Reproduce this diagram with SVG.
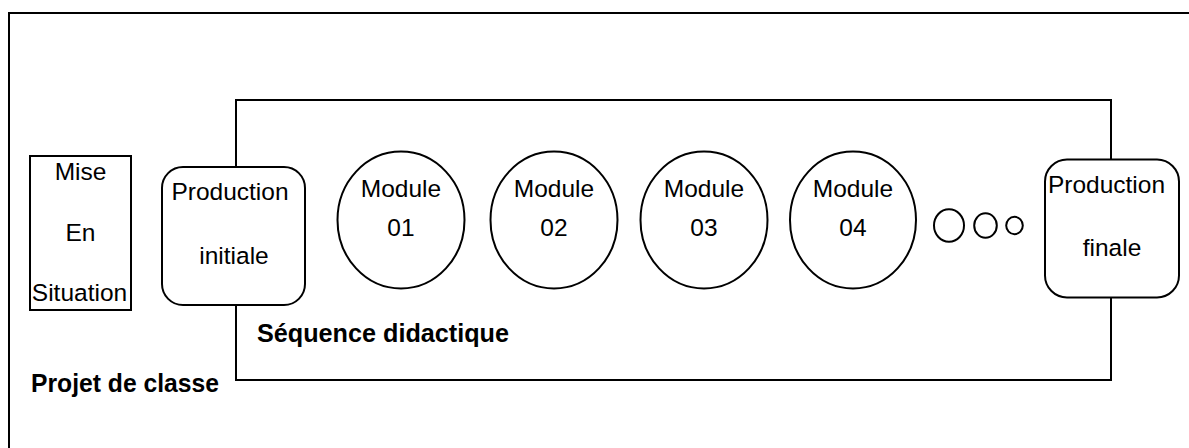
<svg xmlns="http://www.w3.org/2000/svg" width="1189" height="448" viewBox="0 0 1189 448">
<style>
.s{fill:#fff;stroke:#000;stroke-width:2}
.f{fill:none;stroke:#000;stroke-width:2}
.t{font-family:"Liberation Sans",Arial,sans-serif;font-size:24.5px;fill:#000;text-anchor:middle}
.b{font-family:"Liberation Sans",Arial,sans-serif;font-size:25px;font-weight:bold;fill:#000}
</style>
<rect fill="#fff" width="1189" height="448"/>
<g id="projet-classe">
<rect class="f" x="9" y="13" width="1200" height="500"/>
<text class="b" x="31" y="392" textLength="188" lengthAdjust="spacingAndGlyphs">Projet de classe</text>
</g>
<g id="sequence-didactique">
<rect class="f" x="236" y="100" width="875" height="280"/>
<text class="b" x="257" y="342" textLength="252" lengthAdjust="spacingAndGlyphs">Séquence didactique</text>
</g>
<g id="mise-en-situation">
<rect class="s" x="30" y="156" width="101" height="154"/>
<text class="t" x="80.5" y="180" font-size="22">Mise</text>
<text class="t" x="80.5" y="241" font-size="22">En</text>
<text class="t" x="79.5" y="301" font-size="22">Situation</text>
</g>
<g id="production-initiale">
<rect class="s" x="162" y="167" width="143" height="138" rx="21"/>
<text class="t" x="230" y="200">Production</text>
<text class="t" x="234" y="264">initiale</text>
</g>
<g id="module-01">
<ellipse class="s" cx="401" cy="220" rx="63.5" ry="68.5"/>
<text class="t" x="401" y="197">Module</text>
<text class="t" x="401" y="236">01</text>
</g>
<g id="module-02">
<ellipse class="s" cx="554" cy="220" rx="63.5" ry="68.5"/>
<text class="t" x="554" y="197">Module</text>
<text class="t" x="554" y="236">02</text>
</g>
<g id="module-03">
<ellipse class="s" cx="704" cy="220" rx="63.5" ry="68.5"/>
<text class="t" x="704" y="197">Module</text>
<text class="t" x="704" y="236">03</text>
</g>
<g id="module-04">
<ellipse class="s" cx="853" cy="220" rx="63" ry="68.5"/>
<text class="t" x="853" y="197">Module</text>
<text class="t" x="853" y="236">04</text>
</g>
<g id="ellipsis">
<ellipse class="s" cx="949" cy="225.5" rx="15" ry="16.3"/>
<ellipse class="s" cx="985.5" cy="225.5" rx="11.3" ry="12.3"/>
<ellipse class="s" cx="1014.5" cy="225.5" rx="8.3" ry="8.7"/>
</g>
<g id="production-finale">
<rect class="s" x="1045" y="159.5" width="134" height="138" rx="22"/>
<text class="t" x="1106.5" y="193" font-size="22.4">Production</text>
<text class="t" x="1112" y="256">finale</text>
</g>
<g id="connectors"></g>
</svg>
